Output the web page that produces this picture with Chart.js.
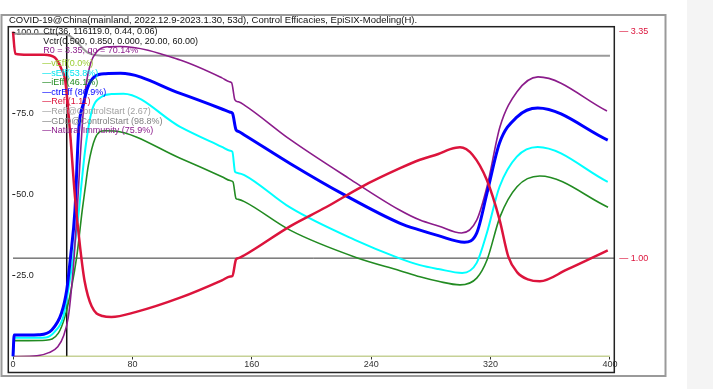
<!DOCTYPE html>
<html>
<head>
<meta charset="utf-8">
<script src="https://cdn.jsdelivr.net/npm/chart.js@4"></script>
<style>
  body { margin: 0; background: #f4f4f4; }
  #wrap { width: 687px; height: 389px; background: #fff; }
</style>
</head>
<body>
<div id="wrap"><canvas id="chart" width="687" height="389"></canvas></div>
<script>
// control efficacies, days 0..400

const titleText = 'COVID-19@China(mainland, 2022.12.9-2023.1.30, 53d), Control Efficacies, EpiSIX-Modeling(H).';
const infoLines = ['Ctr(36, 116119.0, 0.44, 0.06)', 'Vctr(0.500, 0.850, 0.000, 20.00, 60.00)', 'R0 = 3.35, qo = 70.14%'];
const legendLabels = ['vEff(0.0%)', 'sEff(53.8%)', 'iEff (46.1%)', 'ctrEff (86.9%)', 'Reff(1.11)', 'Reff@ControlStart (2.67)', 'GDD@ControlStart (98.8%)', 'Natural Immunity (75.9%)'];
const legendColors = ['#9acd32', '#00e5ee', '#228b22', '#0000ff', '#dc143c', '#a0a0a0', '#808080', '#8b1c8b'];

const xTicks = [0, 80, 160, 240, 320, 400];
const yTicks = [25, 50, 75, 100];
const reffTicks = [1.00, 3.35];
const controlStart = 36;

const reffDays = [0, 1.5, 10, 21, 28, 32.5, 35, 38, 41.5, 45, 48, 52.7, 60, 66, 82, 112, 140, 145.5, 147, 149.5, 151, 155, 185.6, 210, 233.6, 259, 272.7, 285, 293, 299.5, 308, 317.5, 326, 332, 338, 345, 353, 371, 398.5];
const reff     = [3.35, 3.12, 3.11, 3.11, 3.08, 2.96, 2.84, 2.35, 1.64, 1.11, 0.76, 0.50, 0.40, 0.39, 0.44, 0.59, 0.77, 0.81, 0.815, 0.99, 1.0, 1.03, 1.33, 1.53, 1.74, 1.93, 2.02, 2.08, 2.13, 2.15, 2.07, 1.81, 1.40, 1.01, 0.85, 0.78, 0.76, 0.88, 1.08];

const ctrDays = [0, 0.8, 10, 17, 26, 32.5, 36, 38.5, 41.5, 44, 47.5, 50, 55, 62, 72, 112, 140, 145.5, 147, 149.5, 151, 155, 185.6, 222.4, 259, 272.7, 285, 302.5, 310.7, 317.6, 326, 337.6, 351.6, 398.5];
const ctrEff  = [0, 6.6, 6.6, 6.7, 8.2, 13.4, 20.5, 30.5, 45, 69.9, 78.6, 83, 86.5, 87.3, 87.4, 81.2, 76.4, 75.4, 75.1, 69.9, 69.5, 68.4, 59.6, 49.8, 41.2, 39.0, 37.3, 35.3, 38.1, 50.4, 65.9, 73.9, 76.7, 66.8];

const sDays = [0, 0.8, 10, 22, 28, 33.7, 37, 40.4, 44.2, 45.5, 48.2, 52.7, 59.4, 66, 74, 112, 140, 145.5, 147, 148.8, 151, 155, 185.6, 229, 259, 272.7, 285, 301, 310.7, 317.5, 326, 337.6, 351.6, 398.5];
const sEff  = [0, 5.8, 5.8, 5.9, 7.7, 12.3, 20.5, 30.8, 45.2, 51.4, 63.2, 75.6, 80.2, 81.0, 81.1, 70.9, 64.7, 63.5, 63.2, 57.0, 56.6, 56.0, 46.0, 36.0, 30.3, 28.2, 27.0, 25.8, 28.9, 38.1, 52.4, 61.7, 64.7, 53.9];

const iDays = [0, 0.8, 10, 22, 30.4, 34.8, 39.3, 42.7, 46.4, 48.2, 50.5, 55, 61.6, 68, 112, 140, 145.5, 147.4, 149.4, 151, 155, 185.6, 230.3, 259.3, 272.7, 285, 299.5, 310.7, 317.6, 326.3, 337.7, 353, 398.7];
const iEff  = [0, 4.9, 4.9, 5.0, 7.2, 12.3, 21.5, 30.8, 45.2, 51.4, 59.1, 67.3, 69.7, 69.6, 61.2, 55.5, 54.3, 53.9, 48.8, 48.5, 47.8, 39.0, 30.5, 26.5, 24.6, 23.2, 22.1, 24.2, 29.8, 43.1, 52.4, 55.7, 46.1];

const nDays = [0, 16, 24, 30, 34, 37, 39, 41, 43, 45, 47, 49, 52, 56, 63, 72, 112, 140, 145, 146.5, 148.7, 151, 155, 185.6, 225, 259, 272.7, 285, 300.5, 310.7, 317.6, 326.3, 337.7, 351.8, 398];
const natImm = [0, 0.2, 1.2, 3, 6.5, 12, 20, 31, 45, 61, 75, 84, 90.5, 94, 95.6, 95.7, 91.5, 86.0, 84.8, 84.5, 79.2, 78.6, 77.6, 67.0, 55.0, 45.2, 42.1, 40.3, 38.1, 42.1, 52.4, 70.9, 81.7, 86.3, 75.8];

const gddDays = [0, 35, 38, 42, 46, 50, 56, 65, 400];
const gdd     = [99.6, 99.5, 99, 97.5, 95.5, 93.8, 93, 92.8, 92.8];

const vDays = [0, 400];
const vEff  = [0, 0];

function pts(xs, ys) { return xs.map((x, i) => ({ x: x, y: ys[i] })); }

const FONT = '"Liberation Sans", Arial, sans-serif';

const framePlugin = {
  id: 'frame',
  afterDraw(chart) {
    const ctx = chart.ctx;
    const a = chart.chartArea;
    ctx.save();
    // outer frame
    ctx.strokeStyle = '#9a9a9a';
    ctx.lineWidth = 2;
    ctx.strokeRect(1.5, 15, 664, 361);
    // inner frame
    ctx.strokeStyle = '#222';
    ctx.lineWidth = 1.5;
    ctx.strokeRect(a.left, a.top, a.right - a.left, a.bottom + 16 - a.top);
    // small left tick marks
    const y = chart.scales.y;
    ctx.lineWidth = 1;
    yTicks.forEach(v => {
      const py = y.getPixelForValue(v);
      ctx.beginPath();
      ctx.moveTo(a.left + 4, py);
      ctx.lineTo(a.left + 7, py);
      ctx.stroke();
    });
    // title
    ctx.fillStyle = '#111';
    ctx.font = '9.5px ' + FONT;
    ctx.textBaseline = 'middle';
    ctx.textAlign = 'left';
    ctx.fillText(titleText, 9, 20.5);
    // info lines + legend
    ctx.font = '9px ' + FONT;
    const colors = ['#111', '#111', '#8b1c8b'];
    infoLines.forEach((t, i) => {
      ctx.fillStyle = colors[i];
      ctx.fillText(t, a.left + 35, 31.5 + i * 9.7);
    });
    legendLabels.forEach((t, i) => {
      ctx.fillStyle = legendColors[i];
      ctx.fillText('\u2014' + t, a.left + 34, 63.5 + i * 9.6);
    });
    ctx.restore();
  }
};

const ctx = document.getElementById('chart').getContext('2d');
const myChart = new Chart(ctx, {
  type: 'line',
  data: {
    datasets: [
      { label: 'Reff', data: pts(reffDays, reff), yAxisID: 'yR', borderColor: '#dc143c', borderWidth: 2.5 },
      { label: 'ctrEff', data: pts(ctrDays, ctrEff), borderColor: '#0000ff', borderWidth: 3 },
      { label: 'Natural Immunity', data: pts(nDays, natImm), borderColor: '#8b1c8b', borderWidth: 1.6 },
      { label: 'sEff', data: pts(sDays, sEff), borderColor: '#00ffff', borderWidth: 2 },
      { label: 'iEff', data: pts(iDays, iEff), borderColor: '#228b22', borderWidth: 1.6 },
      { label: 'GDD', data: pts(gddDays, gdd), borderColor: '#9a9a9a', borderWidth: 2 },
      { label: 'vEff', data: pts(vDays, vEff), borderColor: '#8da32e', borderWidth: 1.6 },
      { label: 'ControlStart', data: [{ x: controlStart, y: 0 }, { x: controlStart, y: 99 }], borderColor: '#111', borderWidth: 1.5, cubicInterpolationMode: 'default', tension: 0 },
      { label: 'Reff=1', data: [{ x: 0, y: 1 }, { x: 403, y: 1 }], yAxisID: 'yR', borderColor: '#333', borderWidth: 1, tension: 0 }
    ]
  },
  options: {
    responsive: false,
    animation: false,
    elements: {
      point: { radius: 0 },
      line: { cubicInterpolationMode: 'monotone', fill: false }
    },
    layout: { padding: { left: 8.3, top: 26.7, right: 22.7, bottom: 17 } },
    plugins: { legend: { display: false }, tooltip: { enabled: false }, title: { display: false } },
    scales: {
      x: {
        type: 'linear', min: -3.15, max: 402.9,
        afterBuildTicks: s => { s.ticks = xTicks.map(v => ({ value: v })); },
        afterFit: s => { s.height = 15.5; },
        grid: { drawOnChartArea: false, drawTicks: true, tickLength: 3, color: '#333' },
        border: { display: false },
        ticks: { padding: 0, color: '#333', font: { size: 9, family: FONT }, maxRotation: 0 }
      },
      y: {
        position: 'left', min: 0, max: 101.8,
        afterBuildTicks: s => { s.ticks = yTicks.map(v => ({ value: v })); },
        afterFit: s => { s.width = 0; },
        grid: { display: false, drawTicks: false },
        border: { display: false },
        ticks: { mirror: true, padding: 8, color: '#222', font: { size: 9, family: FONT }, callback: v => v.toFixed(1) }
      },
      yR: {
        position: 'right', min: -0.02, max: 3.40,
        afterBuildTicks: s => { s.ticks = reffTicks.map(v => ({ value: v })); },
        afterFit: s => { s.width = 50; },
        grid: { display: false, drawTicks: false },
        border: { display: false },
        ticks: { padding: 5, color: '#dc143c', font: { size: 9, family: FONT }, callback: v => '\u2014 ' + v.toFixed(2) }
      }
    }
  },
  plugins: [framePlugin]
});
</script>
</body>
</html>
